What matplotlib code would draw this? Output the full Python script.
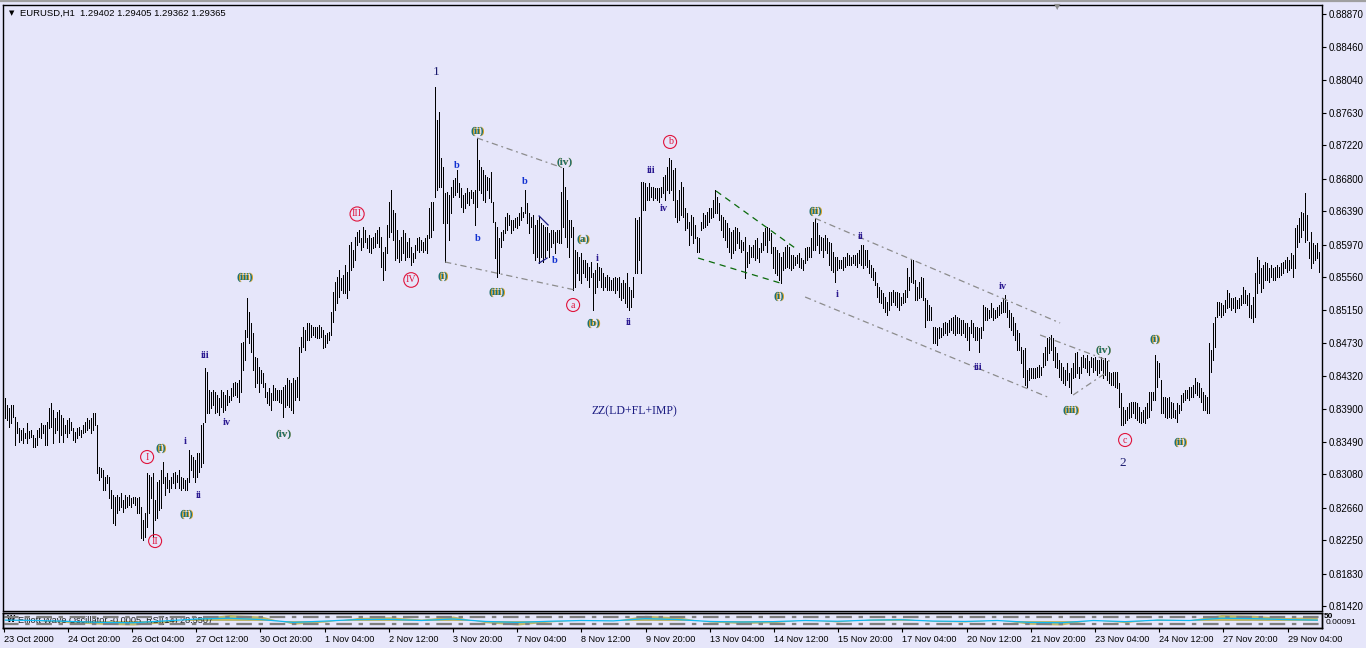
import numpy as np
import matplotlib
matplotlib.use("Agg")
import matplotlib.pyplot as plt
from matplotlib.transforms import offset_copy
from matplotlib.lines import Line2D

# H1 bars, highs/lows in pips above 0.8000
PIP_BASE = 0.80
high_pips = [
    404, 395, 391, 395, 395, 380, 374, 366, 364, 366,
    360, 373, 362, 364, 357, 354, 364, 366, 373, 370,
    370, 374, 391, 398, 389, 379, 386, 389, 383, 379,
    370, 376, 379, 374, 366, 361, 366, 367, 364, 370,
    374, 379, 376, 379, 385, 385, 370, 317, 316, 313,
    304, 307, 304, 288, 282, 279, 282, 279, 284, 276,
    282, 279, 282, 278, 279, 279, 278, 279, 267, 250,
    259, 310, 307, 304, 310, 276, 298, 301, 313, 323,
    304, 310, 301, 304, 310, 311, 307, 313, 304, 303,
    301, 303, 339, 332, 330, 326, 335, 335, 370, 373,
    442, 437, 414, 412, 414, 412, 408, 404, 414, 412,
    408, 414, 406, 417, 423, 424, 423, 427, 473, 474,
    489, 530, 512, 498, 486, 456, 454, 443, 439, 435,
    423, 412, 417, 410, 420, 417, 414, 414, 414, 418,
    420, 429, 427, 423, 429, 427, 430, 468, 481, 493,
    489, 498, 498, 496, 493, 493, 493, 496, 493, 489,
    483, 486, 487, 512, 537, 550, 556, 565, 555, 559,
    571, 563, 596, 600, 590, 606, 613, 615, 605, 619,
    615, 605, 609, 605, 606, 612, 615, 619, 606, 588,
    594, 622, 651, 666, 640, 637, 615, 603, 606, 615,
    612, 600, 605, 594, 586, 596, 605, 606, 603, 600,
    605, 609, 643, 651, 651, 795, 754, 764, 706, 694,
    662, 663, 659, 669, 678, 681, 691, 674, 668, 659,
    662, 668, 663, 666, 663, 666, 731, 703, 694, 691,
    684, 682, 681, 688, 651, 625, 619, 605, 613, 615,
    632, 637, 634, 628, 628, 630, 632, 637, 644, 638,
    666, 649, 637, 632, 634, 622, 628, 632, 624, 622,
    619, 619, 612, 615, 615, 613, 615, 615, 663, 693,
    669, 653, 628, 628, 619, 590, 588, 581, 586, 578,
    578, 574, 569, 575, 561, 565, 574, 569, 567, 561,
    556, 559, 556, 552, 555, 556, 555, 556, 549, 552,
    549, 561, 544, 540, 556, 630, 628, 632, 676, 676,
    674, 669, 674, 669, 669, 668, 668, 668, 669, 682,
    684, 694, 706, 703, 691, 693, 653, 666, 676, 669,
    643, 637, 625, 634, 632, 622, 606, 605, 625, 637,
    634, 638, 643, 643, 653, 666, 657, 649, 634, 632,
    628, 624, 618, 613, 615, 619, 618, 613, 603, 600,
    606, 588, 596, 594, 596, 603, 605, 593, 599, 613,
    618, 619, 618, 612, 594, 594, 590, 586, 581, 588,
    594, 596, 594, 584, 584, 581, 584, 586, 580, 578,
    593, 594, 594, 605, 625, 630, 624, 609, 606, 605,
    609, 605, 600, 599, 588, 581, 581, 578, 578, 581,
    581, 586, 584, 581, 584, 584, 586, 590, 596, 596,
    590, 590, 578, 571, 567, 563, 549, 544, 540, 536,
    531, 525, 537, 537, 540, 537, 537, 536, 531, 536,
    540, 567, 556, 578, 578, 552, 544, 550, 556, 555,
    530, 527, 521, 518, 493, 493, 492, 493, 492, 498,
    500, 498, 502, 505, 506, 508, 506, 505, 502, 502,
    498, 498, 493, 502, 498, 493, 493, 492, 493, 521,
    518, 517, 515, 524, 517, 515, 518, 521, 525, 530,
    534, 525, 515, 511, 506, 498, 489, 486, 468, 464,
    467, 439, 442, 442, 442, 442, 443, 446, 443, 461,
    468, 479, 481, 483, 479, 468, 461, 452, 448, 443,
    439, 448, 435, 442, 448, 461, 462, 443, 456, 458,
    454, 458, 450, 456, 454, 456, 452, 452, 456, 452,
    454, 450, 437, 435, 437, 437, 437, 423, 410, 393,
    389, 393, 398, 399, 399, 399, 398, 393, 386, 389,
    393, 398, 412, 412, 412, 458, 450, 448, 427, 405,
    405, 404, 405, 399, 398, 389, 398, 395, 408, 410,
    414, 414, 418, 418, 420, 429, 424, 423, 417, 412,
    408, 405, 473, 464, 498, 506, 525, 525, 524, 521,
    527, 540, 536, 530, 530, 531, 527, 530, 534, 544,
    540, 534, 536, 521, 531, 561, 581, 578, 567, 571,
    575, 574, 567, 571, 567, 569, 571, 569, 574, 575,
    578, 581, 578, 586, 584, 618, 622, 630, 638, 637,
    662, 634, 600, 613, 599, 596, 599, 588,
]
low_pips = [
    379, 376, 367, 373, 380, 345, 360, 349, 351, 347,
    354, 347, 354, 355, 342, 342, 345, 355, 354, 360,
    345, 345, 366, 367, 347, 360, 364, 349, 357, 349,
    360, 355, 360, 364, 351, 349, 354, 357, 355, 360,
    361, 364, 366, 360, 364, 370, 310, 301, 304, 288,
    288, 297, 278, 265, 247, 244, 259, 263, 267, 261,
    265, 267, 269, 267, 272, 269, 259, 259, 228, 225,
    229, 242, 259, 278, 229, 250, 253, 263, 265, 297,
    282, 291, 286, 291, 297, 291, 298, 291, 288, 291,
    288, 288, 298, 313, 304, 298, 304, 311, 317, 322,
    374, 385, 385, 391, 395, 385, 386, 383, 393, 386,
    389, 395, 399, 401, 406, 408, 405, 399, 412, 439,
    452, 481, 473, 462, 439, 418, 423, 412, 423, 418,
    405, 398, 395, 389, 401, 401, 401, 399, 398, 380,
    393, 395, 393, 389, 385, 401, 405, 401, 462, 468,
    464, 477, 477, 481, 483, 481, 479, 479, 481, 467,
    468, 473, 477, 483, 500, 515, 524, 531, 540, 536,
    536, 530, 540, 565, 569, 578, 596, 600, 590, 594,
    600, 593, 588, 586, 593, 594, 599, 594, 569, 552,
    565, 586, 606, 613, 603, 578, 580, 575, 578, 586,
    578, 581, 581, 571, 575, 580, 590, 588, 590, 588,
    590, 586, 605, 606, 615, 657, 666, 669, 669, 624,
    575, 624, 603, 637, 657, 659, 663, 657, 644, 638,
    643, 649, 647, 656, 649, 622, 644, 666, 662, 653,
    651, 666, 656, 651, 625, 580, 556, 561, 594, 603,
    612, 615, 622, 612, 615, 619, 618, 622, 628, 632,
    637, 624, 612, 619, 586, 578, 581, 574, 581, 575,
    581, 590, 581, 594, 599, 586, 600, 599, 599, 619,
    606, 594, 581, 606, 540, 544, 561, 552, 549, 561,
    556, 552, 544, 556, 515, 536, 544, 552, 544, 540,
    544, 540, 540, 540, 540, 536, 540, 531, 527, 530,
    524, 518, 515, 518, 531, 561, 561, 578, 561, 640,
    640, 653, 653, 657, 653, 656, 653, 651, 657, 662,
    653, 666, 662, 666, 653, 632, 625, 628, 634, 632,
    615, 618, 596, 609, 599, 605, 588, 588, 615, 618,
    619, 622, 625, 630, 632, 637, 637, 628, 615, 606,
    603, 594, 588, 580, 586, 590, 599, 593, 588, 590,
    555, 569, 574, 581, 581, 578, 580, 575, 588, 590,
    596, 588, 603, 586, 567, 561, 559, 552, 549, 565,
    567, 569, 567, 565, 567, 571, 574, 569, 567, 565,
    574, 578, 581, 581, 590, 590, 596, 586, 590, 581,
    590, 586, 571, 565, 563, 550, 565, 567, 567, 565,
    569, 571, 571, 571, 574, 571, 569, 574, 571, 567,
    571, 569, 561, 556, 552, 546, 531, 525, 524, 517,
    512, 508, 515, 521, 525, 521, 518, 515, 521, 524,
    525, 531, 540, 550, 549, 527, 527, 530, 531, 527,
    493, 502, 502, 502, 473, 473, 471, 479, 481, 483,
    486, 483, 487, 489, 486, 483, 486, 486, 483, 486,
    481, 477, 464, 486, 481, 477, 477, 462, 479, 489,
    502, 502, 505, 506, 502, 505, 506, 508, 511, 512,
    512, 506, 493, 489, 483, 477, 464, 464, 448, 430,
    420, 418, 427, 429, 429, 429, 430, 430, 433, 443,
    446, 452, 461, 464, 452, 443, 442, 430, 427, 423,
    420, 427, 418, 410, 429, 430, 435, 429, 435, 443,
    442, 437, 433, 443, 437, 439, 433, 435, 439, 429,
    433, 427, 423, 420, 420, 418, 417, 393, 370, 370,
    373, 376, 379, 380, 385, 379, 376, 374, 373, 374,
    373, 379, 380, 389, 401, 401, 418, 430, 385, 385,
    380, 379, 380, 379, 380, 379, 374, 385, 389, 399,
    401, 404, 401, 405, 405, 410, 408, 405, 399, 389,
    389, 385, 385, 437, 452, 468, 506, 508, 506, 508,
    512, 517, 518, 515, 517, 512, 517, 517, 521, 524,
    524, 521, 506, 505, 500, 506, 536, 549, 537, 542,
    552, 552, 550, 556, 552, 552, 556, 556, 559, 561,
    567, 563, 565, 567, 556, 567, 594, 600, 606, 615,
    600, 603, 580, 567, 574, 578, 580, 563,
]

price_ticks = [0.88870, 0.88460, 0.88040, 0.87630, 0.87220, 0.86800, 0.86390,
               0.85970, 0.85560, 0.85150, 0.84730, 0.84320, 0.83900, 0.83490,
               0.83080, 0.82660, 0.82250, 0.81830, 0.81420]
date_labels = ["23 Oct 2000", "24 Oct 20:00", "26 Oct 04:00", "27 Oct 12:00",
               "30 Oct 20:00", "1 Nov 04:00", "2 Nov 12:00", "3 Nov 20:00",
               "7 Nov 04:00", "8 Nov 12:00", "9 Nov 20:00", "13 Nov 04:00",
               "14 Nov 12:00", "15 Nov 20:00", "17 Nov 04:00", "20 Nov 12:00",
               "21 Nov 20:00", "23 Nov 04:00", "24 Nov 12:00", "27 Nov 20:00",
               "29 Nov 04:00"]

# oscillator window (one value every 16 bars)
ewo = [0.1, 0.0, -0.3, -0.5, -0.6, -0.3, 0.3, 0.8, 0.6, -0.5, -0.2, 0.4, 0.5, 0.2,
       0.6, -0.3, -0.6, -0.2, 0.1, 0.0, 0.7, 0.5, -0.2, -0.4, -0.3, 0.1, -0.2, 0.2,
       0.3, -0.1, -0.2, 0.1, -0.5, -0.6, 0.1, -0.3, 0.2, 0.1, 0.8, 0.7, 0.4, 0.5]
rsi = [52, 50, 45, 40, 38, 48, 58, 62, 55, 40, 47, 55, 56, 50, 58, 45, 40, 46, 50,
       48, 60, 55, 45, 42, 44, 50, 46, 52, 54, 47, 45, 50, 40, 38, 50, 44, 52, 50,
       62, 60, 55, 52]

# wave labels: (bar, price, text)
big_labels = [(215.4, 0.8814, "1"), (558.9, 0.8322, "2")]
circled = [(70.9, 0.83297, "I"), (74.9, 0.8224, "II"), (175.9, 0.86354, "III"),
           (202.9, 0.85524, "IV"), (283.9, 0.85209, "a"), (332.4, 0.8726, "b"),
           (559.9, 0.83511, "c")]
paren = [(77.9, 0.8341, "(i)"), (90.4, 0.8258, "(ii)"), (119.9, 0.85561, "(iii)"),
         (138.9, 0.83586, "(iv)"), (218.9, 0.85574, "(i)"), (235.9, 0.87398, "(ii)"),
         (245.9, 0.85373, "(iii)"), (279.4, 0.87008, "(iv)"), (288.9, 0.86039, "(a)"),
         (293.9, 0.84983, "(b)"), (386.9, 0.85322, "(i)"), (404.9, 0.86392, "(ii)"),
         (532.9, 0.83888, "(iii)"), (548.9, 0.84643, "(iv)"), (574.9, 0.84781, "(i)"),
         (587.4, 0.83486, "(ii)")]
roman = [(89.9, 0.83498, "i"), (96.4, 0.82819, "ii"), (99.9, 0.8458, "iii"),
         (110.9, 0.83737, "iv"), (295.9, 0.858, "i"), (311.4, 0.84983, "ii"),
         (322.9, 0.86907, "iii"), (329.4, 0.86417, "iv"), (415.9, 0.85347, "i"),
         (427.4, 0.86065, "ii"), (486.4, 0.84417, "iii"), (498.9, 0.85448, "iv")]
b_labels = [(225.9, 0.8697), (236.4, 0.86052), (259.9, 0.86769), (274.9, 0.85763)]

gray_lines = [((235.9, 0.8731), (278.9, 0.86933)), ((219.9, 0.8575), (284.9, 0.85398)),
              ((404.9, 0.8630), (527.4, 0.84983)), ((517.4, 0.84832), (553.4, 0.84492)),
              ((399.9, 0.8531), (522.4, 0.84039)), ((533.9, 0.84077), (550.9, 0.84366))]
green_lines = [((355.4, 0.86643), (394.9, 0.85926)), ((346.4, 0.858), (387.4, 0.85486))]
navy_lines = [((266.9, 0.86329), (271.4, 0.86216)), ((266.9, 0.85737), (270.9, 0.858))]

BG = "#E6E6FA"
W, H = 1366, 648
SANS = "Liberation Sans"

fig = plt.figure(figsize=(W / 100, H / 100), dpi=100, facecolor=BG)
ax = fig.add_axes([3 / W, 1 - 611 / H, 1319 / W, 606 / H])
axs = fig.add_axes([3 / W, 1 - 628 / H, 1319 / W, 15 / H])

bars = np.arange(len(high_pips))
highs = PIP_BASE + np.array(high_pips) / 1e4
lows = PIP_BASE + np.array(low_pips) / 1e4
xlim = (-1.15, 658.35)

ax.set_facecolor(BG)
ax.vlines(bars, lows, highs, colors="black", linewidth=0.72, antialiased=False)
ax.set_xlim(*xlim)
ax.set_ylim(0.81360, 0.88983)
ax.set_xticks([])
ax.yaxis.tick_right()
ax.set_yticks(price_ticks)
ax.set_yticklabels(["%.5f" % p for p in price_ticks], family=SANS)
ax.tick_params(axis="y", length=3, width=0.8, pad=2, labelsize=7, colors="black")
for s in ax.spines.values():
    s.set_linewidth(1.0)

# trend lines
for (a, b) in gray_lines:
    ax.plot([a[0], b[0]], [a[1], b[1]], color="#8C8C8C", lw=0.9, dashes=(5, 3, 1.5, 3))
for (a, b) in green_lines:
    ax.plot([a[0], b[0]], [a[1], b[1]], color="#0A6A0A", lw=0.9, dashes=(5, 4))
for (a, b) in navy_lines:
    ax.plot([a[0], b[0]], [a[1], b[1]], color="#1A1A80", lw=0.9)

serif = "Liberation Serif"
for bx, p, t in big_labels:
    ax.text(bx, p, t, color="#1A1A6E", fontsize=9.5, family=serif, ha="center", va="center")
ax.text(314.4, 0.83876, "ZZ(LD+FL+IMP)", color="#1A1A80", fontsize=8.5, family=serif,
        ha="center", va="center")
for bx, p, t in circled:
    ax.text(bx, p, t, color="#E0143C", fontsize=7.2, family=serif, ha="center", va="center",
            bbox=dict(boxstyle="circle,pad=0.2", fc="none", ec="#E0143C", lw=0.8))
shadow = offset_copy(ax.transData, fig=fig, x=0.9, y=-0.5, units="dots")
for bx, p, t in paren:
    ax.text(bx, p, t, color="#D8A020", fontsize=8, family=serif, fontweight="bold",
            ha="center", va="center", transform=shadow)
    ax.text(bx, p, t, color="#1F7070", fontsize=8, family=serif, fontweight="bold",
            ha="center", va="center")
for bx, p, t in roman:
    ax.text(bx, p, t, color="#2A1890", fontsize=7.5, family=serif, fontweight="bold",
            ha="center", va="center")
for bx, p in b_labels:
    ax.text(bx, p, "b", color="#1030D0", fontsize=7.5, family=serif, fontweight="bold",
            ha="center", va="center")

# indicator sub window
osc_bars = np.arange(0, len(high_pips), 16)
axs.set_facecolor(BG)
axs.fill_between(osc_bars, 0, ewo, color="#BDB76B", lw=0)
axs.set_xlim(*xlim)
axs.set_ylim(-1, 1)
ax_r = axs.twinx()
ax_r.set_ylim(10, 90)
for lvl in (30, 70):
    ax_r.axhline(lvl, color="#7F7F7F", lw=1.6, dashes=(7, 3, 2, 3))
ax_r.plot(osc_bars, rsi, color="#10B8F0", lw=0.9)
ax_r.set_yticks([])
axs.set_yticks([])
tick_pos = [-0.85 + 32.1 * k for k in range(len(date_labels))]
axs.set_xticks(tick_pos)
axs.set_xticklabels(date_labels, ha="left", family=SANS)
axs.tick_params(axis="x", length=3, width=0.8, pad=2, labelsize=6.6, colors="black")
for a in (axs, ax_r):
    for s in a.spines.values():
        s.set_linewidth(1.0)
axs.text(0.0114, 0.5, "Elliott Wave Oscillator -0.0005  RSI(14) 28.5507", transform=axs.transAxes,
         fontsize=6.6, family=SANS, color="#202020", va="center", ha="left")
axs.text(0.003, 0.6, "W", transform=axs.transAxes, fontsize=5.5, fontweight="bold",
         color="black", va="center", ha="left")
fig.text(1324 / W, 1 - 616 / H, "50", fontsize=6, family=SANS, fontweight="bold", va="center")
fig.text(1326 / W, 1 - 622 / H, "0.00091", fontsize=6, family=SANS, va="center")

# chart window header
fig.add_artist(Line2D([0, 1], [1 - 0.8 / H, 1 - 0.8 / H], transform=fig.transFigure,
                      color="#A0A0A0", lw=1.6))
fig.text(9 / W, 1 - 13 / H, "\u25bc", fontsize=5, va="center", color="black")
fig.text(20 / W, 1 - 13 / H, "EURUSD,H1  1.29402 1.29405 1.29362 1.29365", fontsize=6.8,
         family=SANS, va="center", color="black")
fig.text(1057 / W, 1 - 6.5 / H, "\u25bc", fontsize=6, va="center", ha="center", color="#8C8C8C")

fig.savefig("out.png", dpi=100, facecolor=BG)
